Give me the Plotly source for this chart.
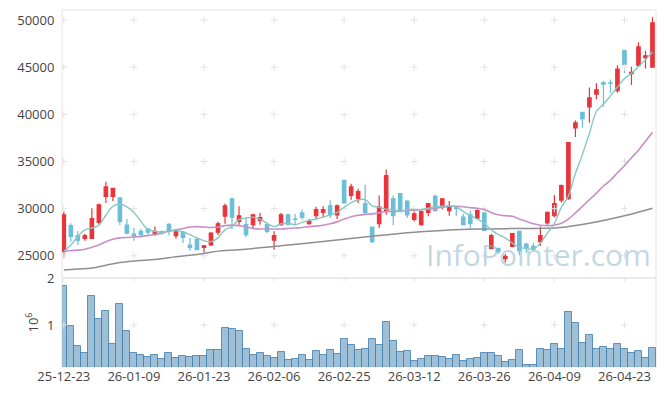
import itertools
import plotly.graph_objects as go

dates = [
    "25-12-23", "25-12-24", "25-12-26", "25-12-29", "25-12-30",
    "26-01-02", "26-01-05", "26-01-06", "26-01-07", "26-01-08", "26-01-09",
    "26-01-12", "26-01-13", "26-01-14", "26-01-15", "26-01-16", "26-01-19",
    "26-01-20", "26-01-21", "26-01-22", "26-01-23", "26-01-26", "26-01-27",
    "26-01-28", "26-01-29", "26-01-30",
    "26-02-02", "26-02-03", "26-02-04", "26-02-05", "26-02-06", "26-02-09",
    "26-02-10", "26-02-11", "26-02-12", "26-02-13", "26-02-19", "26-02-20",
    "26-02-23", "26-02-24", "26-02-25", "26-02-26", "26-02-27",
    "26-03-03", "26-03-04", "26-03-05", "26-03-06", "26-03-09", "26-03-10",
    "26-03-11", "26-03-12", "26-03-13", "26-03-16", "26-03-17", "26-03-18",
    "26-03-19", "26-03-20", "26-03-23", "26-03-24", "26-03-25", "26-03-26",
    "26-03-27", "26-03-30", "26-03-31",
    "26-04-01", "26-04-02", "26-04-03", "26-04-06", "26-04-07", "26-04-08",
    "26-04-09", "26-04-10", "26-04-13", "26-04-14", "26-04-15", "26-04-16",
    "26-04-17", "26-04-20", "26-04-21", "26-04-22", "26-04-23", "26-04-24",
    "26-04-27", "26-04-28", "26-04-29",
]

opens = [
    25450, 28200, 27150, 26850, 26850, 28550, 31300, 31300, 31150, 28250,
    27300, 27600, 27850, 27350, 27550, 28350, 27150, 27500, 26150, 26750,
    25900, 26150, 27500, 29200, 31050, 28650, 28300, 28300, 28750, 28300,
    26650, 28300, 29350, 28900, 29550, 28400, 29250, 29600, 30300, 29350,
    33000, 31400, 31100, 30550, 28050, 28400, 29700, 31050, 31600, 30800,
    28850, 28300, 29600, 31300, 30200, 29800, 30100, 29100, 29350, 29000,
    29550, 25800, 25800, 24700, 26000, 27600, 26250, 26000, 26500, 28500,
    29250, 30900, 31050, 38550, 40200, 40800, 42150, 43350, 43350, 42500,
    46750, 44300, 45200, 46000, 45000,
]
highs = [
    29700, 28450, 27600, 27350, 30050, 30550, 32850, 32200, 31200, 28900,
    27950, 27850, 27850, 28100, 27700, 28450, 27650, 27600, 26900, 26900,
    26150, 27500, 28600, 30550, 31050, 30250, 29100, 29450, 29550, 28350,
    27600, 29550, 29450, 29450, 29900, 28900, 30200, 30250, 30900, 30450,
    33000, 32650, 32100, 32550, 28050, 31400, 34150, 31400, 31650, 30900,
    29900, 29800, 30550, 31500, 31100, 30800, 30200, 29450, 29800, 29950,
    29600, 27350, 25800, 25200, 27400, 27600, 26350, 26350, 28100, 29700,
    31450, 32550, 37050, 39350, 40200, 42850, 43300, 43550, 43700, 45200,
    46850, 45050, 47650, 46750, 50300,
]
lows = [
    24850, 26500, 26150, 26600, 26850, 28350, 30600, 30800, 28250, 27300,
    26600, 26950, 27150, 27150, 27250, 27150, 26800, 26350, 25550, 25650,
    25350, 26050, 27200, 28400, 27850, 28300, 27000, 27850, 28300, 27400,
    25650, 28200, 28200, 28250, 28850, 28300, 28850, 29100, 29000, 28900,
    30550, 30950, 30600, 29350, 26350, 27950, 29350, 28250, 29600, 29000,
    28650, 28200, 29200, 29700, 29900, 29250, 29250, 28300, 27750, 28900,
    27700, 25700, 25200, 24300, 25900, 25100, 25350, 25550, 26050, 28300,
    29100, 30650, 30950, 37600, 38600, 39100, 41600, 40800, 42250, 42300,
    44350, 43100, 45050, 44850, 45000,
]
closes = [
    29350, 27050, 26650, 27150, 28950, 30400, 32300, 32150, 28650, 27400,
    27150, 27250, 27500, 27600, 27450, 27600, 27550, 26950, 25900, 25650,
    26050, 27400, 28400, 30300, 29100, 29250, 27250, 29350, 29050, 27600,
    27150, 29350, 28350, 28850, 29100, 28650, 29900, 29900, 29350, 30300,
    30600, 32300, 31800, 29600, 26500, 30200, 33500, 29250, 29800, 29350,
    29450, 29700, 30550, 29800, 31050, 30250, 30000, 28300, 28400, 29800,
    27700, 27150, 25450, 24950, 27350, 25550, 25800, 25700, 27150, 29600,
    30550, 32450, 37000, 39100, 39550, 41750, 42600, 43200, 43300, 44800,
    45300, 44450, 47150, 46200, 49700,
]
volume_m = [
    1.84, 0.98, 0.55, 0.40, 1.62, 1.13, 1.30, 0.59, 1.45, 0.87,
    0.40, 0.36, 0.31, 0.36, 0.27, 0.40, 0.29, 0.34, 0.31, 0.34,
    0.34, 0.46, 0.46, 0.94, 0.91, 0.87, 0.49, 0.36, 0.40, 0.34,
    0.29, 0.42, 0.25, 0.27, 0.36, 0.25, 0.44, 0.36, 0.46, 0.38,
    0.70, 0.57, 0.46, 0.49, 0.70, 0.57, 1.06, 0.66, 0.42, 0.44,
    0.23, 0.27, 0.34, 0.34, 0.31, 0.27, 0.36, 0.23, 0.27, 0.29,
    0.40, 0.40, 0.34, 0.21, 0.25, 0.46, 0.16, 0.16, 0.49, 0.46,
    0.59, 0.49, 1.28, 1.04, 0.61, 0.79, 0.49, 0.53, 0.49, 0.59,
    0.49, 0.40, 0.44, 0.29, 0.51,
]
ma5 = [
    25450, 26150, 27050, 27750, 27950, 28250, 29300, 30250, 30500, 30200,
    29600, 28650, 27800, 27600, 27500, 27650, 27700, 27550, 27250, 26900,
    26600, 26500, 26900, 27750, 28100, 28850, 29000, 29100, 28900, 28450,
    28100, 28400, 28450, 28300, 28550, 28750, 28900, 29100, 29350, 29600,
    30150, 30650, 30950, 30950, 30300, 30150, 29950, 29900, 29700, 29900,
    29900, 29900, 30050, 30200, 30250, 30300, 30200, 29700, 29250, 28900,
    28450, 27750, 27250, 26900, 26350, 25900, 25800, 25700, 26350, 27400,
    28450, 30150, 31350, 33750, 35750, 38000, 40300, 41100, 41950, 42900,
    43800, 44350, 45050, 45800, 46600,
]
ma20 = [
    25550, 25550, 25600, 25700, 25900, 26150, 26500, 26750, 26900, 26950,
    27000, 27050, 27150, 27250, 27400, 27600, 27750, 27900, 28050, 28100,
    28050, 28000, 28050, 28200, 28250, 28200, 28050, 27900, 27850, 27850,
    27850, 27850, 27900, 27950, 28000, 28100, 28150, 28250, 28400, 28600,
    28900, 29150, 29300, 29400, 29450, 29550, 29700, 29700, 29750, 29800,
    29850, 29900, 29950, 30050, 30150, 30250, 30250, 30200, 30100, 30050,
    29900, 29600, 29350, 29250, 29200, 28900, 28650, 28400, 28250, 28200,
    28250, 28450, 28900, 29550, 30250, 30950, 31650, 32400, 33000, 33800,
    34550, 35400, 36200, 37150, 38100,
]
# long moving average, read at sampled bars
ma_long_idx = [0, 2, 4, 6, 8, 10, 12, 14, 16, 18, 20, 22, 25, 30, 35, 40,
               45, 50, 55, 60, 65, 70, 72, 75, 80, 84]
ma_long = [23500, 23600, 23700, 24000, 24300, 24450, 24550, 24700, 24900,
           25050, 25250, 25500, 25650, 26000, 26350, 26750, 27150, 27500,
           27750, 27850, 27900, 27950, 28100, 28450, 29250, 30050]

price_ticks = [25000, 30000, 35000, 40000, 45000, 50000]
vol_ticks = [1, 2]
xtick_dates = dates[::10]

RED = "#e8343a"
BLUE = "#6bbed8"
FONT = "Open Sans"
TXT = "#444444"
FRAME = "#e4e4e4"
CROSS = "#e2e2e2"

fig = go.Figure()

# grid markers (small crosses at tick intersections)
gx, gy = zip(*itertools.product(xtick_dates, price_ticks))
fig.add_trace(go.Scatter(
    x=list(gx), y=list(gy), mode="markers", xaxis="x", yaxis="y",
    marker=dict(symbol="cross-thin", size=5, line=dict(color=CROSS, width=1)),
    hoverinfo="skip", showlegend=False))
vx, vy = zip(*itertools.product(xtick_dates, vol_ticks))
fig.add_trace(go.Scatter(
    x=list(vx), y=list(vy), mode="markers", xaxis="x", yaxis="y2",
    marker=dict(symbol="cross-thin", size=5, line=dict(color=CROSS, width=1)),
    hoverinfo="skip", showlegend=False))

# watermark text
fig.add_annotation(
    text="InfoPointer.com", xref="paper", yref="paper",
    x=0.8030, y=0.3165, xanchor="center", yanchor="middle", showarrow=False,
    font=dict(family=FONT, size=30, color="rgba(140,182,204,0.55)"))

fig.add_trace(go.Scatter(
    x=[dates[k] for k in ma_long_idx], y=ma_long, mode="lines",
    line=dict(color="#8f8f8f", width=1.5, shape="spline"),
    xaxis="x", yaxis="y", showlegend=False, hoverinfo="skip"))
fig.add_trace(go.Scatter(
    x=dates, y=ma20, mode="lines",
    line=dict(color="#c88fc6", width=1.6, shape="spline"),
    xaxis="x", yaxis="y", showlegend=False))
fig.add_trace(go.Scatter(
    x=dates, y=ma5, mode="lines",
    line=dict(color="#86c9c2", width=1.4, shape="spline"),
    xaxis="x", yaxis="y", showlegend=False))

fig.add_trace(go.Candlestick(
    x=dates, open=opens, high=highs, low=lows, close=closes,
    increasing=dict(line=dict(color=RED, width=1.2), fillcolor=RED),
    decreasing=dict(line=dict(color=BLUE, width=1.2), fillcolor=BLUE),
    whiskerwidth=0, xaxis="x", yaxis="y", showlegend=False))

fig.add_trace(go.Bar(
    x=dates, y=volume_m, xaxis="x", yaxis="y2", showlegend=False,
    marker=dict(color="rgba(70,132,178,0.52)",
                line=dict(color="rgba(70,132,178,0.85)", width=1))))

split = (367 - 278) / 357

# the page body adds an 8px offset, so the figure is sized to fit inside it
fig.update_layout(
    width=657, height=388,
    margin=dict(l=54, r=9, t=2, b=29, autoexpand=False),
    paper_bgcolor="white", plot_bgcolor="white",
    showlegend=False, bargap=0,
    font=dict(family=FONT, size=13, color=TXT),
    xaxis=dict(
        type="category", categoryorder="array", categoryarray=dates,
        range=[-0.26, 84.5], tickvals=xtick_dates, ticktext=xtick_dates,
        anchor="y2", showgrid=False, zeroline=False, showline=False,
        ticks="", rangeslider=dict(visible=False), automargin=False,
        tickfont=dict(family=FONT, size=13, color=TXT)),
    yaxis=dict(
        domain=[split, 1], range=[22650, 51060], tickvals=price_ticks,
        tickformat="d", automargin=False,
        showgrid=False, zeroline=False, showline=False,
        ticks="outside", ticklen=4, tickcolor="rgba(0,0,0,0)",
        tickfont=dict(family=FONT, size=13, color=TXT)),
    yaxis2=dict(
        domain=[0, split], range=[0.107, 2.0], tickvals=vol_ticks,
        automargin=False,
        showgrid=False, zeroline=False, showline=False,
        ticks="outside", ticklen=4, tickcolor="rgba(0,0,0,0)",
        tickfont=dict(family=FONT, size=13, color=TXT),
        title=dict(text="10<sup>6</sup>", standoff=5,
                   font=dict(family=FONT, size=13, color=TXT))),
    shapes=[
        dict(type="rect", xref="paper", yref="paper", x0=0, x1=1,
             y0=split, y1=1, line=dict(color=FRAME, width=1), layer="below"),
        dict(type="rect", xref="paper", yref="paper", x0=0, x1=1,
             y0=0, y1=split, line=dict(color=FRAME, width=1), layer="below"),
    ],
)

fig.write_html("out.html")
